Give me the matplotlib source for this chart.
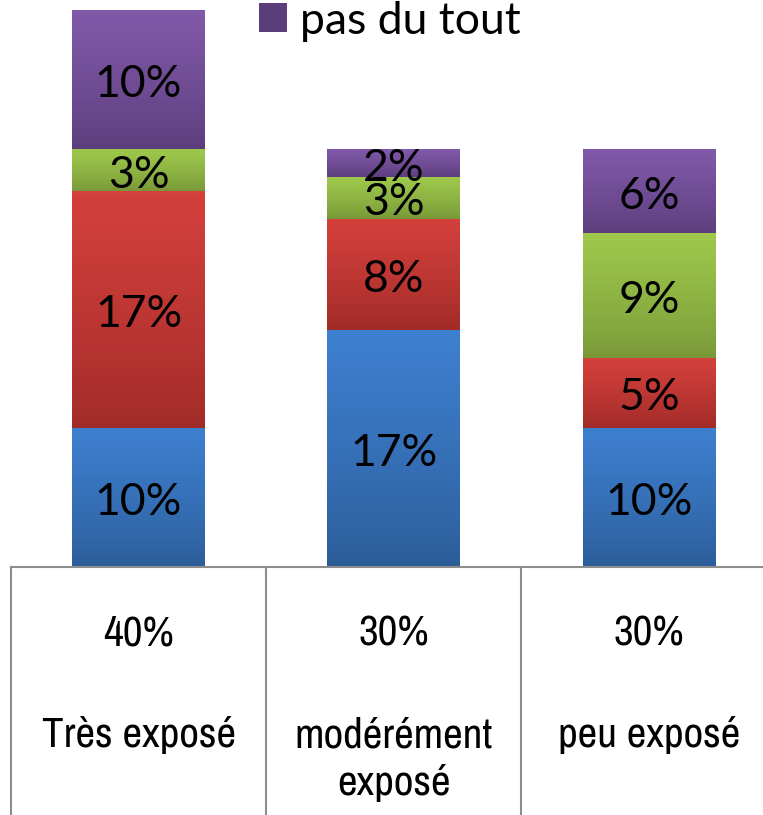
import numpy as np
import matplotlib
matplotlib.use("Agg")
import matplotlib.pyplot as plt
from matplotlib.colors import LinearSegmentedColormap

categories = ["Très exposé", "modérément\nexposé", "peu exposé"]
series_names = ["tout à fait", "plutôt", "peu", "pas du tout"]
blue_vals = [10, 17, 10]
red_vals = [17, 8, 5]
green_vals = [3, 3, 9]
purple_vals = [10, 2, 6]

# (top colour, bottom colour) of each gradient
gradients = [("#3E80D0", "#2C5C98"),
             ("#D4403C", "#A02B28"),
             ("#9EC94C", "#789838"),
             ("#8159A9", "#5C3D7C")]

label_font = ["Lato", "DejaVu Sans"]
table_font = ["Archivo Narrow", "Roboto Condensed", "Liberation Sans", "DejaVu Sans"]

W, H = 763, 815
PX_PER_UNIT = 13.925
fig = plt.figure(figsize=(W / 100, H / 100), dpi=100)
ax = fig.add_axes([11 / W, (H - 567) / H, 765.5 / W, 567 / H])

x = np.arange(len(categories))
values = [blue_vals, red_vals, green_vals, purple_vals]
bottom = np.zeros(len(categories))
containers = []
for name, vals, (top_c, bot_c) in zip(series_names, values, gradients):
    bars = ax.bar(x, vals, width=0.52, bottom=bottom, color=bot_c, label=name,
                  linewidth=0, zorder=2)
    cmap = LinearSegmentedColormap.from_list(name, [bot_c, top_c])
    grad = np.linspace(1, 0, 64).reshape(-1, 1) ** 0.8
    for patch, v in zip(bars, vals):
        x0, y0 = patch.get_x(), patch.get_y()
        w, h = patch.get_width(), patch.get_height()
        im = ax.imshow(grad, extent=[x0, x0 + w, y0, y0 + h], aspect="auto",
                       cmap=cmap, vmin=0, vmax=1, zorder=3)
        im.set_clip_path(patch)
        ax.text(x0 + w / 2, y0 + h / 2 - 5 / PX_PER_UNIT, f"{v}%", ha="center",
                va="center", fontsize=32, family=label_font, color="black",
                zorder=4)
    bottom += np.array(vals)
    containers.append(bars)

ax.set_xlim(-0.5, 2.5)
ax.set_ylim(0, 567 / PX_PER_UNIT)
ax.axis("off")

# table below the bars
tr = ax.get_xaxis_transform()
line_kw = dict(color="#8C8C8C", lw=1.5, transform=tr, clip_on=False, zorder=5)
ax.plot([-0.5, 2.6], [0, 0], **line_kw)
for xv in [-0.5, 0.5, 1.5]:
    ax.plot([xv, xv], [0, -0.45], **line_kw)

px = 1 / 567
for i, cat in enumerate(categories):
    ax.text(x[i], -(646 - 567) * px, f"{int(bottom[i])}%", ha="center",
            va="baseline", fontsize=31, family=table_font, transform=tr)
    for k, line in enumerate(cat.split("\n")):
        ax.text(x[i], -(747 + 48 * k - 567) * px, line, ha="center",
                va="baseline", fontsize=31, family=table_font, transform=tr)

fig.legend(handles=[containers[-1]], labels=[series_names[-1]],
           loc="center left", bbox_to_anchor=(259 / W, 1 - 21 / H),
           frameon=False, borderpad=0, borderaxespad=0,
           handlelength=0.62, handleheight=0.62, handletextpad=0.3,
           prop={"family": label_font, "size": 32})

fig.savefig("out.png", dpi=100)
